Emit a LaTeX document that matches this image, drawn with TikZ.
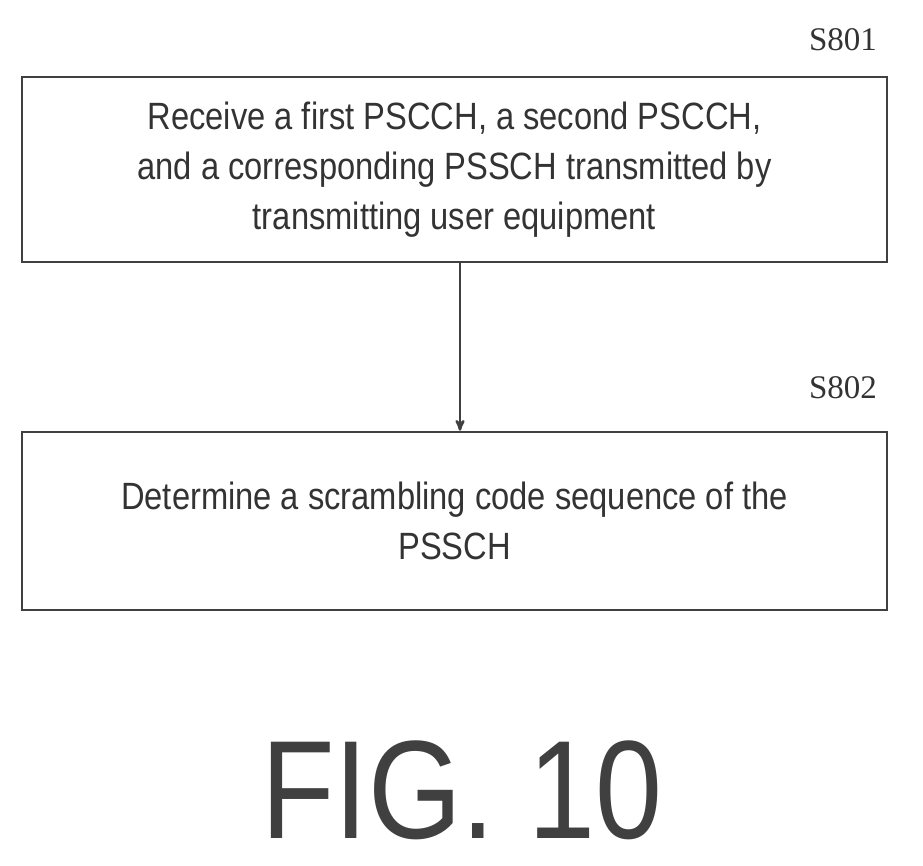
\documentclass[tikz,border=0pt]{standalone}
\usepackage{fontspec}
\setmainfont{Liberation Serif}
\setsansfont{Liberation Sans}
\newfontfamily\narrowsans[FakeStretch=0.86]{Liberation Sans}
\usetikzlibrary{positioning,arrows}
\tikzstyle{stepbox} = [rectangle, draw=black!75, line width=2.5pt, minimum width=865pt, align=center, font=\narrowsans\fontsize{38}{50}\selectfont, text=black!80]
\tikzstyle{steplabel} = [font=\fontsize{33}{36}\selectfont, text=black!80]
\tikzstyle{arrow} = [line width=2.5pt, draw=black!75, ->, >=stealth']
\begin{document}
\begin{tikzpicture}[x=1pt,y=-1pt]
\useasboundingbox (0,0) rectangle (923,866);

\node (s801) [stepbox, minimum height=185pt] at (454.5,169.5) {Receive a first PSCCH, a second PSCCH,\\ and a corresponding PSSCH transmitted by\\ transmitting user equipment};
\node (s802) [stepbox, minimum height=178pt] at (454.5,521) {Determine a scrambling code sequence of the\\ PSSCH};

\node (l801) [steplabel] at (843,40) {S801};
\node (l802) [steplabel] at (843,388) {S802};

%arrows
\draw [arrow] (s801.south -| 460,0) -- (s802.north -| 460,0);

\node (fig) [font=\narrowsans\fontsize{140}{140}\selectfont, text=black!75] at (462,790) {FIG. 10};
\end{tikzpicture}
\end{document}
